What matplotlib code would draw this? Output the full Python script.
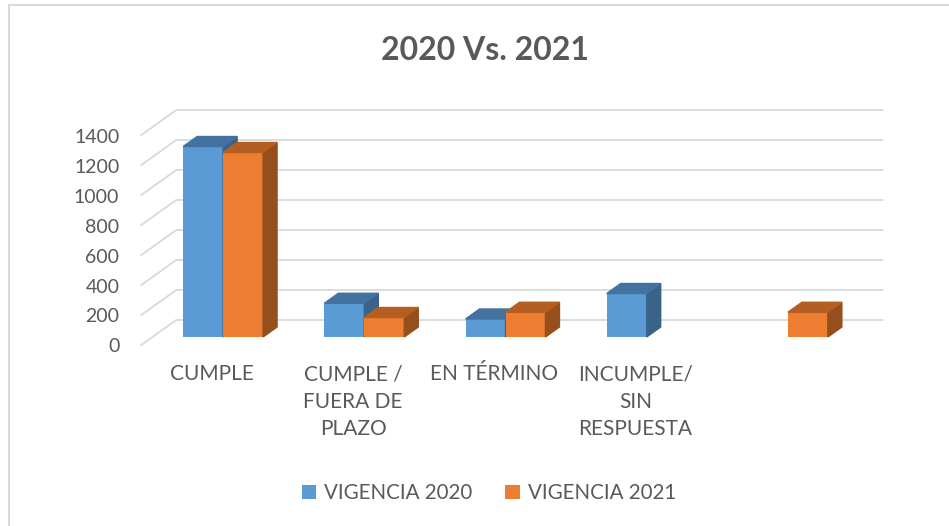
import matplotlib.pyplot as plt
from matplotlib.patches import Polygon
from matplotlib.lines import Line2D

# Data
categories = ["CUMPLE", "CUMPLE /\nFUERA DE\nPLAZO", "EN TÉRMINO", "INCUMPLE/\nSIN\nRESPUESTA", ""]
vigencia_2020 = [1270, 225, 120, 290, 0]
vigencia_2021 = [1230, 130, 165, 0, 165]
series_names = ["VIGENCIA 2020", "VIGENCIA 2021"]
y_ticks = [0, 200, 400, 600, 800, 1000, 1200, 1400]

plt.rcParams['font.family'] = ['Lato', 'DejaVu Sans']
TXT = "#595959"
GRID = "#d9d9d9"

# front, top, side shades for each series
shades = [("#5b9bd5", "#4472a0", "#3a6389"),
          ("#ed7d31", "#b55e22", "#964e1d")]

# scale of the bar front plane (pixels per category / per value unit)
X_PX, Y_PX = 141.2, 0.15
DX, DY = 35 / X_PX, 25 / Y_PX       # full floor depth in data units
FRONT, BACK, BAR_D = -0.32, 0.68, 0.4
W = 0.283

fig = plt.figure(figsize=(9.49, 5.26), dpi=100)
ax = fig.add_axes([0, 0, 1, 1])
ax.axis("off")
ax.set_xlim(-0.5 - 152.5 / X_PX, -0.5 + (949 - 152.5) / X_PX)
ax.set_ylim((337 - 526) / Y_PX, 337 / Y_PX)

n = len(categories)

# back wall gridlines + left wall diagonals, value labels
for v in y_ticks:
    x0, y0 = -0.5 + FRONT * DX, v + FRONT * DY
    x1, y1 = -0.5 + BACK * DX, v + BACK * DY
    ax.plot([x0, x1, n - 0.5 + BACK * DX], [y0, y1, y1], color=GRID, lw=1.3, zorder=1)
    ax.text(x0 - 22 / X_PX, y0 - 2 / Y_PX, str(v), ha="right", va="center",
            fontsize=14, color=TXT)

# bars with 3D faces
for j, vals in enumerate([vigencia_2020, vigencia_2021]):
    front, top, side = shades[j]
    z = 3 + j
    lefts = [i - W + j * W for i in range(n)]
    ax.bar(lefts, vals, W, align="edge", color=front, zorder=z, label=series_names[j])
    bx, by = BAR_D * DX, BAR_D * DY
    for left, v in zip(lefts, vals):
        if v == 0:
            continue
        r = left + W
        ax.add_patch(Polygon([(r, 0), (r + bx, by), (r + bx, v + by), (r, v)],
                             closed=True, color=side, zorder=z))
        ax.add_patch(Polygon([(left, v), (left + bx, v + by), (r + bx, v + by), (r, v)],
                             closed=True, color=top, zorder=z))

# category labels on the floor front edge
for i, lab in enumerate(categories):
    ax.annotate(lab, xy=(i + FRONT * DX, FRONT * DY), xytext=(0, -14),
                textcoords="offset points", ha="center", va="top",
                fontsize=15, color=TXT, linespacing=1.47)

fig.text(485 / 949, 1 - 50 / 526, "2020 Vs. 2021", ha="center", va="center",
         fontsize=23, fontweight="bold", color=TXT)

ax.legend(loc="center", bbox_to_anchor=(489 / 949, 1 - 493 / 526), ncol=2,
          frameon=False, handlelength=0.7, handleheight=0.7, handletextpad=0.4,
          columnspacing=1.6, fontsize=14.8, labelcolor=TXT)

# chart border (top and left visible)
fig.add_artist(Line2D([9 / 949, 9 / 949, 1], [0, 1 - 5 / 526, 1 - 5 / 526],
                      color=GRID, lw=1.5))

fig.savefig("out.png", dpi=100)
